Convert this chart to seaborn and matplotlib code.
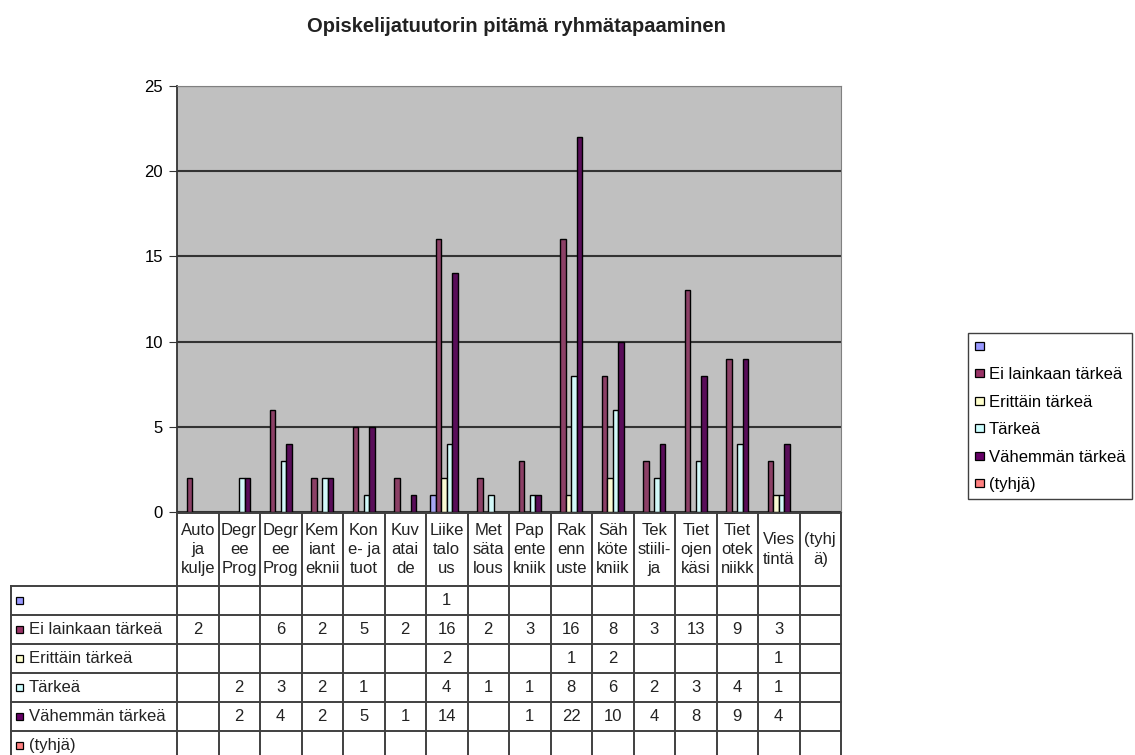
import matplotlib
matplotlib.use("Agg")
import matplotlib.pyplot as plt
import seaborn as sns
import numpy as np
import pandas as pd
from matplotlib.patches import Patch, Rectangle

# ---------------- data ----------------
title = "Opiskelijatuutorin pitämä ryhmätapaaminen"
categories = ["Auto\nja\nkulje", "Degr\nee\nProg", "Degr\nee\nProg", "Kem\niant\neknii",
              "Kon\ne- ja\ntuot", "Kuv\natai\nde", "Liike\ntalo\nus", "Met\nsäta\nlous",
              "Pap\nente\nkniik", "Rak\nenn\nuste", "Säh\nköte\nkniik", "Tek\nstiili-\nja",
              "Tiet\nojen\nkäsi", "Tiet\notek\nniikk", "Vies\ntintä", "(tyhj\nä)"]
series_names = ["", "Ei lainkaan tärkeä", "Erittäin tärkeä", "Tärkeä",
                "Vähemmän tärkeä", "(tyhjä)"]
n = np.nan
blank_series = [n, n, n, n, n, n, 1, n, n, n, n, n, n, n, n, n]
ei_lainkaan = [2, n, 6, 2, 5, 2, 16, 2, 3, 16, 8, 3, 13, 9, 3, n]
erittain = [n, n, n, n, n, n, 2, n, n, 1, 2, n, n, n, 1, n]
tarkea = [n, 2, 3, 2, 1, n, 4, 1, 1, 8, 6, 2, 3, 4, 1, n]
vahemman = [n, 2, 4, 2, 5, 1, 14, n, 1, 22, 10, 4, 8, 9, 4, n]
tyhja = [n, n, n, n, n, n, n, n, n, n, n, n, n, n, n, n]
yticks = [0, 5, 10, 15, 20, 25]
colors = ["#9999FF", "#993366", "#FFFFCC", "#CCFFFF", "#660066", "#FF8080"]

all_series = [blank_series, ei_lainkaan, erittain, tarkea, vahemman, tyhja]
rows = []
for name, vals in zip(series_names, all_series):
    for i, v in enumerate(vals):
        rows.append({"cat": i, "series": name, "value": v})
df = pd.DataFrame(rows)

# ---------------- layout ----------------
W, H = 1135, 755
plt.rcParams["font.family"] = ["Liberation Sans", "DejaVu Sans"]
fig = plt.figure(figsize=(W / 100, H / 100), dpi=100)

AX_L, AX_R, AX_B, AX_T = 177, 841, 512, 86
ax = fig.add_axes([AX_L / W, 1 - AX_B / H, (AX_R - AX_L) / W, (AX_B - AX_T) / H])
palette = dict(zip(series_names, colors))
sns.barplot(data=df, x="cat", y="value", hue="series", order=list(range(len(categories))),
            hue_order=series_names, palette=palette, errorbar=None, edgecolor="black",
            linewidth=1.0, ax=ax, legend=False, width=0.8)
ax.set_xlim(-0.5, len(categories) - 0.5)
ax.set_ylim(0, 25)
ax.set_facecolor("#C0C0C0")
ax.set_yticks(yticks)
ax.yaxis.grid(True, color="#333333", lw=1.5)
ax.set_axisbelow(True)
ax.set_xticks([])
ax.set_xlabel("")
ax.set_ylabel("")
ax.tick_params(axis="y", length=6, direction="out", labelsize=12, pad=4, color="#333333")
for s in ["top", "right"]:
    ax.spines[s].set_color("#808080")
ax.spines["left"].set_color("#333333")
ax.spines["bottom"].set_color("#333333")
ax.spines["left"].set_linewidth(1.3)

# ---------------- data table ----------------
tax = fig.add_axes([0, 0, 1, 1])
tax.set_xlim(0, W)
tax.set_ylim(H, 0)
tax.axis("off")
tax.patch.set_alpha(0)

ncat = len(categories)
col_w = (AX_R - AX_L) / ncat
col_x = [AX_L + col_w * i for i in range(ncat + 1)]
HEAD_T, HEAD_B, ROW_H, LEFT = 513, 586, 29, 11
row_y = [HEAD_B + ROW_H * k for k in range(len(series_names) + 1)]
lc, lw = "#404040", 1.4
tax.plot([AX_L, AX_R], [HEAD_T, HEAD_T], color=lc, lw=lw)
for y in row_y:
    tax.plot([LEFT, AX_R], [y, y], color=lc, lw=lw)
tax.plot([LEFT, LEFT], [HEAD_B, row_y[-1]], color=lc, lw=lw)
for x in col_x:
    tax.plot([x, x], [HEAD_T, row_y[-1]], color=lc, lw=lw)

for i, lab in enumerate(categories):
    tax.text(col_x[i] + col_w / 2, (HEAD_T + HEAD_B) / 2, lab, ha="center", va="center",
             fontsize=12, linespacing=1.35, color="#222222")

for k, (name, vals) in enumerate(zip(series_names, all_series)):
    yc = (row_y[k] + row_y[k + 1]) / 2
    tax.add_patch(Rectangle((16, yc - 3.5), 7, 7, facecolor=colors[k], edgecolor="black", lw=0.9))
    tax.text(29, yc, name, ha="left", va="center", fontsize=12, color="#222222")
    for i, v in enumerate(vals):
        if not np.isnan(v):
            tax.text(col_x[i] + col_w / 2, yc, f"{int(v)}", ha="center", va="center",
                     fontsize=12, color="#222222")

# ---------------- legend & title ----------------
handles = [Patch(facecolor=c, edgecolor="black", lw=0.9, label=nm)
           for c, nm in zip(colors, series_names)]
fig.legend(handles=handles, loc="upper left", bbox_to_anchor=(968 / W, 1 - 333 / H),
           frameon=True, fancybox=False, edgecolor="#404040", fontsize=12,
           handlelength=0.55, handleheight=0.35, handletextpad=0.3, labelspacing=0.75,
           borderpad=0.4, borderaxespad=0.0, framealpha=1)

fig.text(516 / W, 1 - 27 / H, title, ha="center", va="center", fontsize=14.5,
         fontweight="bold", color="#222222")

fig.savefig("out.png", dpi=100)
